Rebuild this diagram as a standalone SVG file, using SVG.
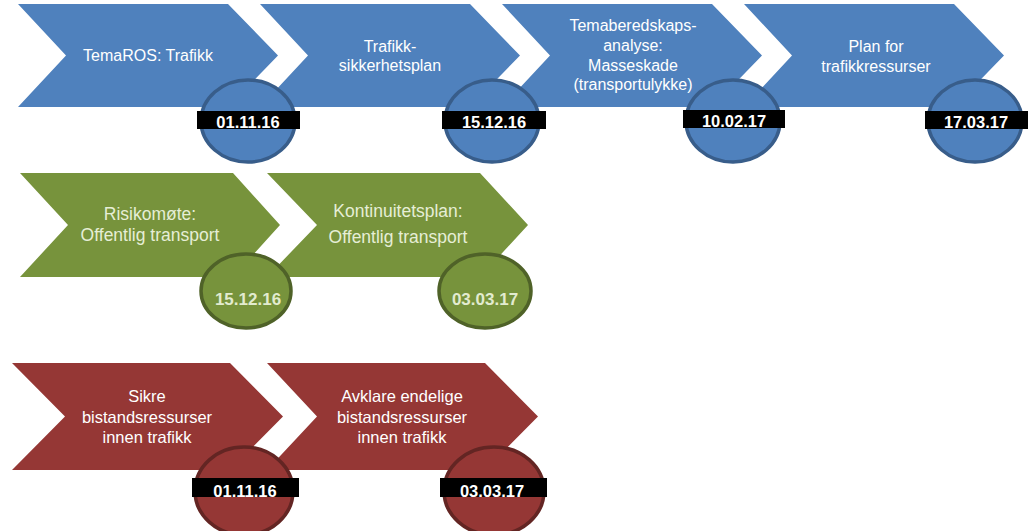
<svg xmlns="http://www.w3.org/2000/svg" width="1033" height="531" viewBox="0 0 1033 531">
<style>
.b{fill:#4f81bd}
.bc{fill:#4f81bd;stroke:#385d8a;stroke-width:3.5}
.g{fill:#77933c}
.gc{fill:#77933c;stroke:#4f6228;stroke-width:3.5}
.r{fill:#953735}
.rc{fill:#953735;stroke:#632523;stroke-width:3.5}
.t{font-family:"Liberation Sans",Arial,sans-serif;font-size:16px;fill:#ffffff;text-anchor:middle}
.tg{font-family:"Liberation Sans",Arial,sans-serif;font-size:17.5px;fill:#e6eed6;text-anchor:middle}
.tr{font-family:"Liberation Sans",Arial,sans-serif;font-size:16.5px;fill:#ffffff;text-anchor:middle}
.lbl{fill:#000000}
.d{font-family:"Liberation Sans",Arial,sans-serif;font-size:16.5px;font-weight:bold;fill:#ffffff;text-anchor:middle}
.dg{font-family:"Liberation Sans",Arial,sans-serif;font-size:17px;font-weight:bold;fill:#e2ebcf;text-anchor:middle}
</style>
<rect width="1033" height="531" fill="#ffffff"/>
<g id="chevrons">
<path id="b1" class="b" d="M18,4 L228,4 L278,55.5 L228,107 L18,107 L66,55.5 Z"/>
<path id="b2" class="b" d="M260,4 L470,4 L520,55.5 L470,107 L260,107 L308,55.5 Z"/>
<path id="b3" class="b" d="M502,4 L712,4 L762,55.5 L712,107 L502,107 L550,55.5 Z"/>
<path id="b4" class="b" d="M744,4 L954,4 L1004,55.5 L954,107 L744,107 L792,55.5 Z"/>
<path id="g1" class="g" d="M20,173 L233,173 L280,225 L233,277 L20,277 L68,225 Z"/>
<path id="g2" class="g" d="M267,173 L480,173 L528,225 L480,277 L267,277 L317,225 Z"/>
<path id="r1" class="r" d="M12,363 L230,363 L283,416.5 L230,470 L12,470 L65,416.5 Z"/>
<path id="r2" class="r" d="M267,363 L485,363 L538,416.5 L485,470 L267,470 L317,416.5 Z"/>
</g>
<g id="chevron-texts">
<text class="t" x="148" y="61">TemaROS: Trafikk</text>
<text class="t" x="390" y="52">Trafikk-</text>
<text class="t" x="390" y="71">sikkerhetsplan</text>
<text class="t" x="633" y="31">Temaberedskaps-</text>
<text class="t" x="633" y="51">analyse:</text>
<text class="t" x="633" y="71">Masseskade</text>
<text class="t" x="633" y="90">(transportulykke)</text>
<text class="t" x="876" y="52">Plan for</text>
<text class="t" x="876" y="72">trafikkressurser</text>
<text class="tg" x="150" y="220">Risikomøte:</text>
<text class="tg" x="150" y="241">Offentlig transport</text>
<text class="tg" x="398" y="217">Kontinuitetsplan:</text>
<text class="tg" x="398" y="243">Offentlig transport</text>
<text class="tr" x="147" y="402">Sikre</text>
<text class="tr" x="147" y="423">bistandsressurser</text>
<text class="tr" x="147" y="443">innen trafikk</text>
<text class="tr" x="402" y="402">Avklare endelige</text>
<text class="tr" x="402" y="423">bistandsressurser</text>
<text class="tr" x="402" y="443">innen trafikk</text>
</g>
<g id="milestone-b1"><ellipse class="bc" cx="248" cy="121" rx="47" ry="41"/><rect class="lbl" x="197" y="111" width="103" height="18"/><text class="d" x="248" y="128">01.11.16</text></g>
<g id="milestone-b2"><ellipse class="bc" cx="492" cy="121" rx="47" ry="41"/><rect class="lbl" x="442" y="111" width="104" height="18"/><text class="d" x="494" y="128">15.12.16</text></g>
<g id="milestone-b3"><ellipse class="bc" cx="733" cy="121" rx="47" ry="41"/><rect class="lbl" x="683" y="110" width="102" height="18"/><text class="d" x="734" y="127">10.02.17</text></g>
<g id="milestone-b4"><ellipse class="bc" cx="975" cy="121" rx="47" ry="41"/><rect class="lbl" x="925" y="111" width="103" height="18"/><text class="d" x="976" y="128">17.03.17</text></g>
<g id="milestone-g1"><ellipse class="gc" cx="246" cy="291" rx="45" ry="37"/><text class="dg" x="248" y="305">15.12.16</text></g>
<g id="milestone-g2"><ellipse class="gc" cx="485" cy="291" rx="46" ry="37"/><text class="dg" x="485" y="305">03.03.17</text></g>
<g id="milestone-r1"><ellipse class="rc" cx="244" cy="491" rx="49" ry="44"/><rect class="lbl" x="192" y="478" width="107" height="19"/><text class="d" x="245" y="497">01.11.16</text></g>
<g id="milestone-r2"><ellipse class="rc" cx="494" cy="491" rx="50" ry="44"/><rect class="lbl" x="440" y="478" width="107" height="19"/><text class="d" x="492" y="497">03.03.17</text></g>
</svg>
